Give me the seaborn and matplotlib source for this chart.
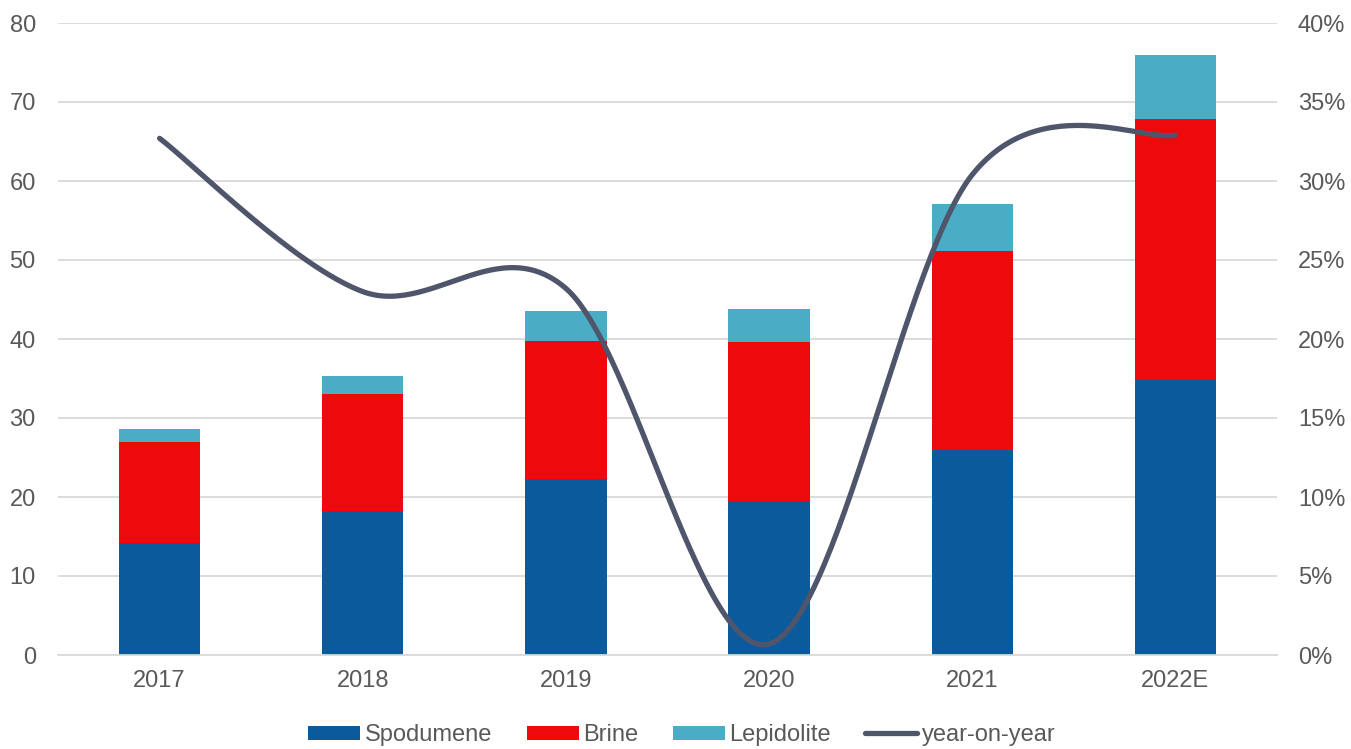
import numpy as np
import pandas as pd
import matplotlib
matplotlib.use("Agg")
import matplotlib.pyplot as plt
from matplotlib.patches import Patch
from matplotlib.lines import Line2D
import seaborn as sns

# Lithium supply by resource type (10k t LCE) and year-on-year growth
years = ["2017", "2018", "2019", "2020", "2021", "2022E"]
spodumene = [14.2, 18.2, 22.3, 19.5, 25.9, 34.8]
brine = [12.8, 14.8, 17.4, 20.1, 25.2, 33.0]
lepidolite = [1.6, 2.3, 3.8, 4.2, 6.0, 8.1]
yoy = [32.7, 23.0, 23.2, 0.7, 30.4, 32.9]  # percent

series_names = ["Spodumene", "Brine", "Lepidolite", "year-on-year"]
colors = {"Spodumene": "#0A5A9C", "Brine": "#EE0A0A", "Lepidolite": "#4BACC6",
          "year-on-year": "#4F566B"}

sns.set_theme(style="white")
plt.rcParams["font.family"] = ["Liberation Sans", "DejaVu Sans"]
text_color = "#595959"
grid_color = "#D9D9D9"
fs = 17

df = pd.DataFrame({"year": years, "Spodumene": spodumene, "Brine": brine,
                   "Lepidolite": lepidolite})
df["lvl1"] = df["Spodumene"]
df["lvl2"] = df["Spodumene"] + df["Brine"]
df["lvl3"] = df["lvl2"] + df["Lepidolite"]

fig = plt.figure(figsize=(13.51, 7.49), dpi=100)
ax = fig.add_axes([58 / 1351, 94 / 749, 1219 / 1351, 632 / 749])

# Stacked bars: draw cumulative totals from the top layer down
for col, name in [("lvl3", "Lepidolite"), ("lvl2", "Brine"), ("lvl1", "Spodumene")]:
    sns.barplot(data=df, x="year", y=col, color=colors[name], saturation=1,
                width=0.4, ax=ax, zorder=2, linewidth=0, edgecolor="none")

ax.set_xlim(-0.5, 5.5)
ax.set_ylim(0, 80)
ax.set_yticks(np.arange(0, 81, 10))
ax.set_xlabel("")
ax.set_ylabel("")
ax.yaxis.grid(True, color=grid_color, linewidth=1.3, zorder=0)
ax.set_axisbelow(True)
for s in ["top", "left", "right"]:
    ax.spines[s].set_visible(False)
ax.spines["bottom"].set_color(grid_color)
ax.spines["bottom"].set_linewidth(1.3)
ax.tick_params(axis="both", length=0, labelsize=fs, labelcolor=text_color)
ax.tick_params(axis="y", pad=16)
ax.tick_params(axis="x", pad=11)

# Smoothed growth line on the secondary axis (cubic Bezier through the points)
ax2 = ax.twinx()
pts = np.column_stack([np.arange(len(yoy), dtype=float), np.array(yoy, dtype=float)])
n = len(pts)
curve = []
t = np.linspace(0, 1, 60)
for i in range(n - 1):
    p0 = pts[i - 1] if i > 0 else pts[i]
    p1, p2 = pts[i], pts[i + 1]
    p3 = pts[i + 2] if i + 2 < n else pts[i + 1]
    c1 = p1 + (p2 - p0) / 6.0
    c2 = p2 - (p3 - p1) / 6.0
    seg = ((1 - t) ** 3)[:, None] * p1 + (3 * (1 - t) ** 2 * t)[:, None] * c1 \
        + (3 * (1 - t) * t ** 2)[:, None] * c2 + (t ** 3)[:, None] * p2
    curve.append(seg if i == 0 else seg[1:])
curve = np.vstack(curve)
sns.lineplot(x=curve[:, 0], y=curve[:, 1], ax=ax2, sort=False, estimator=None,
             color=colors["year-on-year"], linewidth=3.8, solid_capstyle="round")
ax2.set_ylim(0, 40)
ax2.set_yticks(np.arange(0, 41, 5))
ax2.set_yticklabels([f"{v}%" for v in range(0, 41, 5)])
ax2.set_xlim(-0.5, 5.5)
ax2.set_ylabel("")
for s in ["top", "left", "right", "bottom"]:
    ax2.spines[s].set_visible(False)
ax2.grid(False)
ax2.tick_params(axis="y", length=0, labelsize=fs, labelcolor=text_color, pad=15)

handles = [Patch(facecolor=colors[nm], edgecolor="none") for nm in series_names[:3]]
handles.append(Line2D([0], [0], color=colors["year-on-year"], linewidth=3.8,
                      solid_capstyle="round"))
fig.legend(handles, series_names, loc="center", bbox_to_anchor=(682 / 1351, 1 - 735 / 749),
           ncol=4, frameon=False, fontsize=fs, labelcolor=text_color,
           handlelength=2.2, handleheight=0.55, handletextpad=0.2, columnspacing=1.45)

fig.savefig("out.png", dpi=100)
